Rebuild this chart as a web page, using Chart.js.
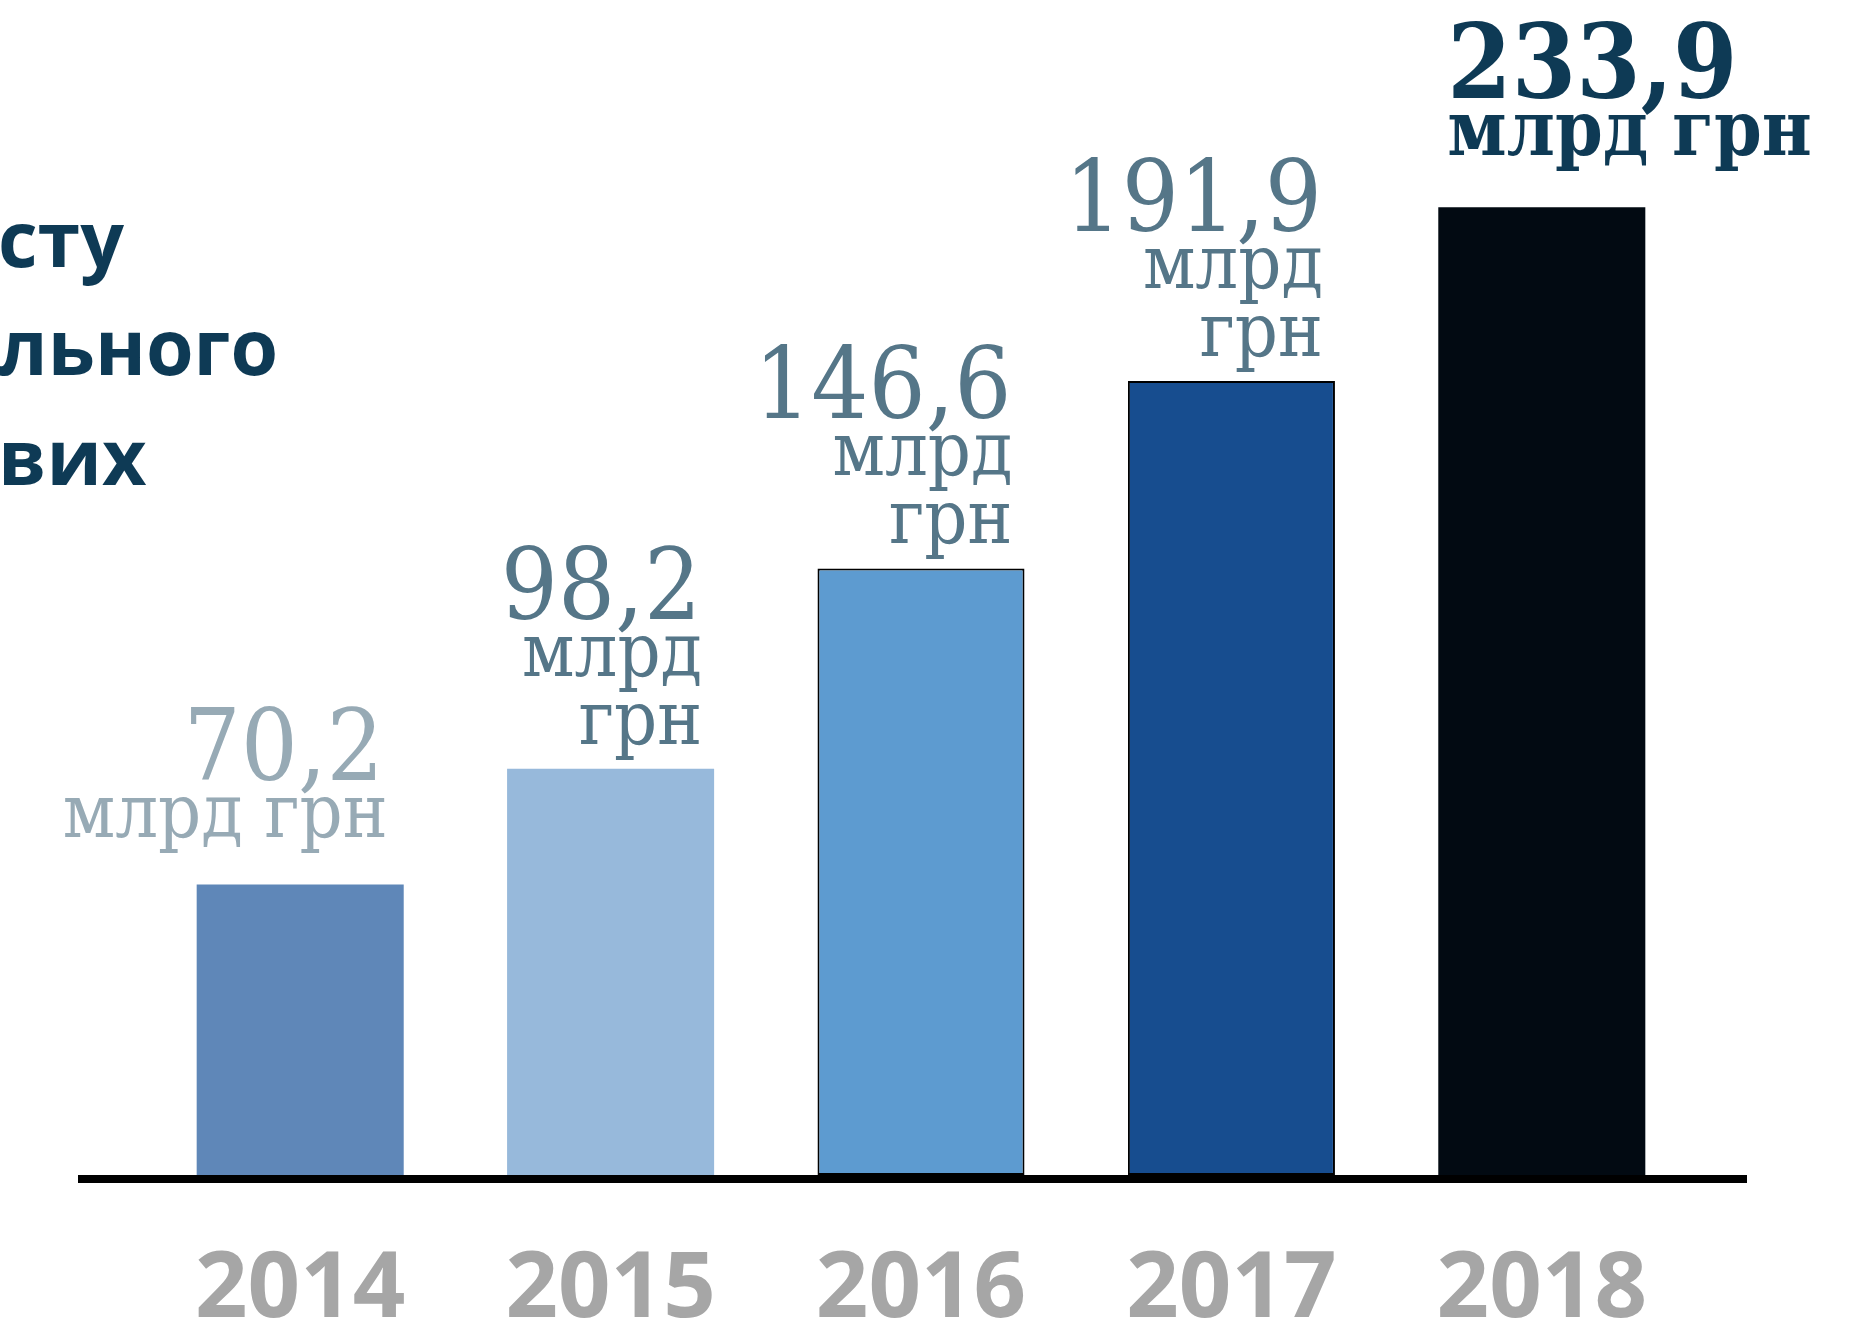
<!DOCTYPE html>
<html>
<head>
<meta charset="utf-8">
<script src="https://cdn.jsdelivr.net/npm/chart.js@4/dist/chart.umd.min.js"></script>
<style>
  html, body { margin: 0; padding: 0; background: #ffffff; }
  #wrap { width: 1874px; height: 1323px; position: relative; }
</style>
</head>
<body>
<div id="wrap"><canvas id="budgetChart" width="1874" height="1323"></canvas></div>
<script>
// chart data
var years = ['2014', '2015', '2016', '2017', '2018'];
var amounts = [70.2, 98.2, 146.6, 191.9, 233.9];
var unitLabel = 'млрд грн';
var titleLines = ['сту', 'льного', 'вих'];

// styles per bar
var barColors = ['#5f87b8', '#97b9db', '#5d9bd0', '#174d8f', '#020a12'];
var barBorders = [0, 0, 2, 2, 0];
var labelColors = ['#97aab5', '#557688', '#557688', '#557688', '#0e3a55'];

var serif = '"DejaVu Serif Condensed", "DejaVu Serif", serif';

// left title (cut off in the original picture)
var titlePlugin = {
  id: 'leftTitle',
  afterDraw: function(chart) {
    var ctx = chart.ctx;
    ctx.save();
    ctx.fillStyle = '#0e3a55';
    ctx.font = 'bold 77px "Open Sans"';
    ctx.textAlign = 'left';
    ctx.textBaseline = 'alphabetic';
    var baselines = [267, 375, 485];
    titleLines.forEach(function(t, i) {
      ctx.fillText(t, -2, baselines[i]);
    });
    ctx.restore();
  }
};

// thick baseline under the bars
var baselinePlugin = {
  id: 'baseLine',
  afterDatasetsDraw: function(chart) {
    var ctx = chart.ctx;
    var y0 = chart.scales.y.getPixelForValue(0);
    ctx.save();
    ctx.fillStyle = '#000000';
    ctx.fillRect(78, y0, 1669, 8);
    ctx.restore();
  }
};

// value labels above bars
var valuePlugin = {
  id: 'valueLabels',
  afterDatasetsDraw: function(chart) {
    var ctx = chart.ctx;
    var meta = chart.getDatasetMeta(0);
    ctx.save();
    meta.data.forEach(function(bar, i) {
      var num = amounts[i].toFixed(1).replace('.', ',');
      var top = bar.y;
      var left = bar.x - bar.width / 2;
      var right = bar.x + bar.width / 2;
      ctx.fillStyle = labelColors[i];
      ctx.textBaseline = 'alphabetic';
      if (i === years.length - 1) {
        // last one: bold, left aligned
        ctx.textAlign = 'left';
        ctx.font = 'bold 103px ' + serif;
        ctx.fillText(num, left + 9, top - 109);
        ctx.font = 'bold 76px ' + serif;
        ctx.fillText(unitLabel, left + 9, top - 52);
      } else if (i === 0) {
        ctx.textAlign = 'right';
        ctx.font = '100px ' + serif;
        ctx.fillText(num, right - 20, top - 105);
        ctx.font = '75px ' + serif;
        ctx.fillText(unitLabel, right - 16, top - 48);
      } else {
        var parts = unitLabel.split(' ');
        ctx.textAlign = 'right';
        ctx.font = '100px ' + serif;
        ctx.fillText(num, right - 13, top - 150);
        ctx.font = '75px ' + serif;
        ctx.fillText(parts[0], right - 12, top - 93);
        ctx.fillText(parts[1], right - 12, top - 25);
      }
    });
    ctx.restore();
  }
};

var ctx = document.getElementById('budgetChart').getContext('2d');

var myChart = new Chart(ctx, {
  type: 'bar',
  data: {
    labels: years,
    datasets: [{
      data: amounts,
      backgroundColor: barColors,
      borderColor: '#000000',
      borderWidth: barBorders,
      borderSkipped: false,
      categoryPercentage: 1,
      barPercentage: 0.667
    }]
  },
  options: {
    responsive: false,
    animation: false,
    layout: { padding: { left: 145, right: 177, top: 0, bottom: 4 } },
    plugins: {
      legend: { display: false },
      tooltip: { enabled: false },
      title: { display: false }
    },
    scales: {
      x: {
        grid: { display: false, drawTicks: false },
        border: { display: false },
        afterFit: function(scale) { scale.height = 144; },
        ticks: {
          color: '#a6a6a6',
          padding: 79,
          font: { family: '"Open Sans"', weight: 'bold', size: 92, lineHeight: 0.8 }
        }
      },
      y: {
        display: false,
        min: 0,
        max: 284
      }
    }
  },
  plugins: [titlePlugin, baselinePlugin, valuePlugin]
});
</script>
</body>
</html>
